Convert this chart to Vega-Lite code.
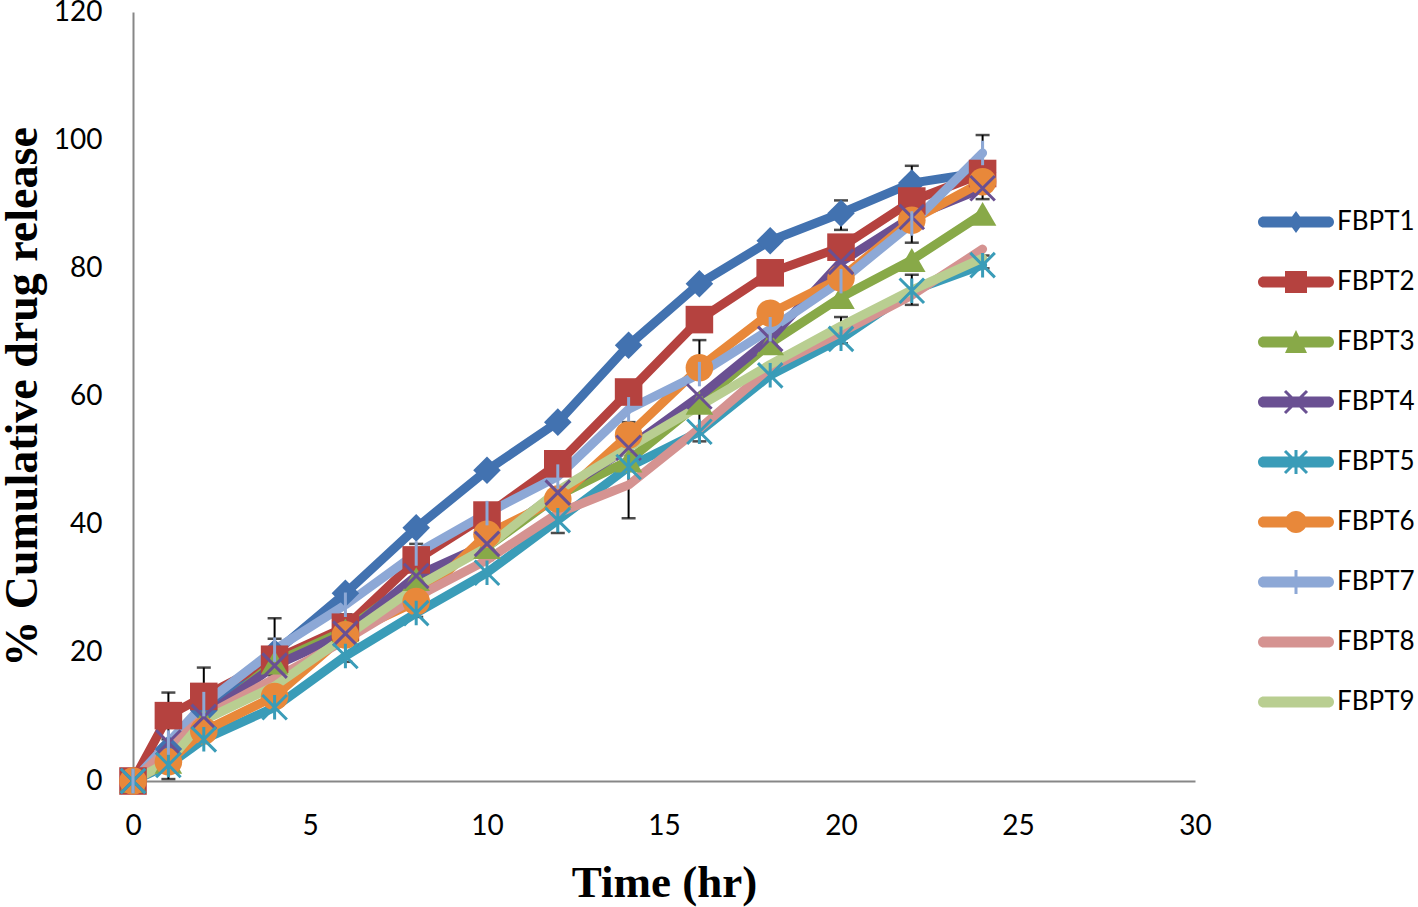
{
  "$schema": "https://vega.github.io/schema/vega-lite/v6.json",
  "width": 1062,
  "height": 769,
  "autosize": "none",
  "padding": {"left": 133, "top": 12, "right": 223, "bottom": 126},
  "background": "white",
  "config": {
    "view": {"stroke": null},
    "axis": {"grid": false, "ticks": false, "domainColor": "#878787", "domainWidth": 2, "labelFont": "Lato", "labelFontSize": 28, "labelColor": "#000000", "titleFont": "Liberation Serif", "titleFontWeight": "bold", "titleColor": "#000000"},
    "axisX": {"labelPadding": 31, "titleFontSize": 45, "titlePadding": 20, "labelFlush": false},
    "axisY": {"labelPadding": 31, "titleFontSize": 46, "titlePadding": 7}
  },
  "datasets": {
    "release": [
      {"t":0,"s":"FBPT1","v":0},{"t":1,"s":"FBPT1","v":5},{"t":2,"s":"FBPT1","v":11},{"t":4,"s":"FBPT1","v":20},{"t":6,"s":"FBPT1","v":29.3},{"t":8,"s":"FBPT1","v":39.5},{"t":10,"s":"FBPT1","v":48.5},{"t":12,"s":"FBPT1","v":56},{"t":14,"s":"FBPT1","v":68},{"t":16,"s":"FBPT1","v":77.6},{"t":18,"s":"FBPT1","v":84.3},{"t":20,"s":"FBPT1","v":88.6},{"t":22,"s":"FBPT1","v":93.3},{"t":24,"s":"FBPT1","v":95},
      {"t":0,"s":"FBPT2","v":0},{"t":1,"s":"FBPT2","v":10.2},{"t":2,"s":"FBPT2","v":13.2},{"t":4,"s":"FBPT2","v":19},{"t":6,"s":"FBPT2","v":24},{"t":8,"s":"FBPT2","v":34.5},{"t":10,"s":"FBPT2","v":41.5},{"t":12,"s":"FBPT2","v":49.5},{"t":14,"s":"FBPT2","v":60.7},{"t":16,"s":"FBPT2","v":72},{"t":18,"s":"FBPT2","v":79.3},{"t":20,"s":"FBPT2","v":83.3},{"t":22,"s":"FBPT2","v":90.5},{"t":24,"s":"FBPT2","v":94.8},
      {"t":0,"s":"FBPT3","v":0},{"t":1,"s":"FBPT3","v":3},{"t":2,"s":"FBPT3","v":9.5},{"t":4,"s":"FBPT3","v":18.5},{"t":6,"s":"FBPT3","v":23.5},{"t":8,"s":"FBPT3","v":31.5},{"t":10,"s":"FBPT3","v":36.5},{"t":12,"s":"FBPT3","v":44.5},{"t":14,"s":"FBPT3","v":50},{"t":16,"s":"FBPT3","v":59},{"t":18,"s":"FBPT3","v":68.3},{"t":20,"s":"FBPT3","v":75.5},{"t":22,"s":"FBPT3","v":81.3},{"t":24,"s":"FBPT3","v":88.5},
      {"t":0,"s":"FBPT4","v":0},{"t":1,"s":"FBPT4","v":6},{"t":2,"s":"FBPT4","v":10},{"t":4,"s":"FBPT4","v":18},{"t":6,"s":"FBPT4","v":23},{"t":8,"s":"FBPT4","v":32},{"t":10,"s":"FBPT4","v":37},{"t":12,"s":"FBPT4","v":45},{"t":14,"s":"FBPT4","v":52},{"t":16,"s":"FBPT4","v":60},{"t":18,"s":"FBPT4","v":69},{"t":20,"s":"FBPT4","v":81},{"t":22,"s":"FBPT4","v":88},{"t":24,"s":"FBPT4","v":92.5},
      {"t":0,"s":"FBPT5","v":0},{"t":1,"s":"FBPT5","v":2.5},{"t":2,"s":"FBPT5","v":6.5},{"t":4,"s":"FBPT5","v":11.5},{"t":6,"s":"FBPT5","v":19.5},{"t":8,"s":"FBPT5","v":26.2},{"t":10,"s":"FBPT5","v":32.5},{"t":12,"s":"FBPT5","v":40.7},{"t":14,"s":"FBPT5","v":49},{"t":16,"s":"FBPT5","v":54.5},{"t":18,"s":"FBPT5","v":63.3},{"t":20,"s":"FBPT5","v":69},{"t":22,"s":"FBPT5","v":76.5},{"t":24,"s":"FBPT5","v":80.5},
      {"t":0,"s":"FBPT6","v":0},{"t":1,"s":"FBPT6","v":3},{"t":2,"s":"FBPT6","v":7.8},{"t":4,"s":"FBPT6","v":13.2},{"t":6,"s":"FBPT6","v":22.8},{"t":8,"s":"FBPT6","v":28},{"t":10,"s":"FBPT6","v":38.5},{"t":12,"s":"FBPT6","v":44},{"t":14,"s":"FBPT6","v":54},{"t":16,"s":"FBPT6","v":64.5},{"t":18,"s":"FBPT6","v":73},{"t":20,"s":"FBPT6","v":78.5},{"t":22,"s":"FBPT6","v":87.5},{"t":24,"s":"FBPT6","v":93.5},
      {"t":0,"s":"FBPT7","v":0},{"t":1,"s":"FBPT7","v":6},{"t":2,"s":"FBPT7","v":12},{"t":4,"s":"FBPT7","v":20.5},{"t":6,"s":"FBPT7","v":27.5},{"t":8,"s":"FBPT7","v":35.5},{"t":10,"s":"FBPT7","v":41.8},{"t":12,"s":"FBPT7","v":47.5},{"t":14,"s":"FBPT7","v":58},{"t":16,"s":"FBPT7","v":63.5},{"t":18,"s":"FBPT7","v":70.5},{"t":20,"s":"FBPT7","v":78},{"t":22,"s":"FBPT7","v":87},{"t":24,"s":"FBPT7","v":98},
      {"t":0,"s":"FBPT8","v":0},{"t":1,"s":"FBPT8","v":5},{"t":2,"s":"FBPT8","v":10},{"t":4,"s":"FBPT8","v":16},{"t":6,"s":"FBPT8","v":22},{"t":8,"s":"FBPT8","v":28.7},{"t":10,"s":"FBPT8","v":34.5},{"t":12,"s":"FBPT8","v":41.8},{"t":14,"s":"FBPT8","v":46.2},{"t":16,"s":"FBPT8","v":55},{"t":18,"s":"FBPT8","v":64.5},{"t":20,"s":"FBPT8","v":70},{"t":22,"s":"FBPT8","v":75.8},{"t":24,"s":"FBPT8","v":83},
      {"t":0,"s":"FBPT9","v":0},{"t":1,"s":"FBPT9","v":3},{"t":2,"s":"FBPT9","v":9.5},{"t":4,"s":"FBPT9","v":14.8},{"t":6,"s":"FBPT9","v":22.5},{"t":8,"s":"FBPT9","v":30.3},{"t":10,"s":"FBPT9","v":36.5},{"t":12,"s":"FBPT9","v":45.3},{"t":14,"s":"FBPT9","v":52},{"t":16,"s":"FBPT9","v":58.5},{"t":18,"s":"FBPT9","v":65},{"t":20,"s":"FBPT9","v":71},{"t":22,"s":"FBPT9","v":76.6},{"t":24,"s":"FBPT9","v":81.6}
    ],
    "err": [
      {"t":1,"lo":6.5,"hi":13.8},{"t":1,"lo":0.3,"hi":3},
      {"t":2,"lo":8.8,"hi":17.7},
      {"t":4,"lo":14,"hi":25.4},{"t":4,"lo":16.5,"hi":22.2},
      {"t":6,"lo":18.6,"hi":26},
      {"t":8,"lo":25.6,"hi":31.4},{"t":8,"lo":31.4,"hi":37},
      {"t":10,"lo":34.5,"hi":40},
      {"t":12,"lo":38.7,"hi":44},
      {"t":14,"lo":41,"hi":51.4},{"t":14,"lo":51,"hi":56},
      {"t":16,"lo":53,"hi":59},{"t":16,"lo":64,"hi":68.8},
      {"t":20,"lo":86,"hi":90.6},{"t":20,"lo":68.3,"hi":72.4},
      {"t":22,"lo":90,"hi":96},{"t":22,"lo":74.3,"hi":79},{"t":22,"lo":84,"hi":88},
      {"t":24,"lo":90.8,"hi":100.8},{"t":24,"lo":80,"hi":82}
    ]
  },
  "layer": [
    {
      "data": {"name": "err"},
      "mark": {"type": "errorbar", "ticks": {"size": 14, "color": "#000000", "thickness": 2.5}, "rule": {"color": "#000000", "strokeWidth": 2}},
      "encoding": {
        "x": {"field": "t", "type": "quantitative", "title": "Time (hr)", "scale": {"domain": [0, 30], "nice": false}, "axis": {"values": [0, 5, 10, 15, 20, 25, 30]}},
        "y": {"field": "lo", "type": "quantitative", "title": "% Cumulative drug release", "scale": {"domain": [0, 120], "nice": false}, "axis": {"values": [0, 20, 40, 60, 80, 100, 120]}},
        "y2": {"field": "hi"}
      }
    },
    {
      "data": {"name": "release"},
      "mark": {"type": "line", "strokeWidth": 9, "strokeCap": "round", "strokeJoin": "round"},
      "encoding": {
        "x": {"field": "t", "type": "quantitative", "title": "Time (hr)", "scale": {"domain": [0, 30], "nice": false}, "axis": {"values": [0, 5, 10, 15, 20, 25, 30]}},
        "y": {"field": "v", "type": "quantitative", "title": "% Cumulative drug release", "scale": {"domain": [0, 120], "nice": false}, "axis": {"values": [0, 20, 40, 60, 80, 100, 120]}},
        "color": {
          "field": "s", "type": "nominal",
          "scale": {"domain": ["FBPT1","FBPT2","FBPT3","FBPT4","FBPT5","FBPT6","FBPT7","FBPT8","FBPT9"], "range": ["#4272B0","#B5423F","#88A948","#6A5092","#3A9CB8","#E8883A","#8DA8D6","#D59391","#B9CE91"]},
          "legend": {
            "title": null, "orient": "none", "legendX": 1143, "legendY": 190, "padding": 0,
            "symbolSize": 1600, "symbolStrokeWidth": 0, "rowPadding": 27, "labelOffset": 21,
            "labelFont": "Lato", "labelFontSize": 26, "labelColor": "#000000", "labelLimit": 200,
            "encode": {
              "symbols": {
                "update": {
                  "shape": {"signal": "['M-1.625,-0.275L1.625,-0.275A0.275,0.275 0 0 1 1.625,0.275L-1.625,0.275A0.275,0.275 0 0 1 -1.625,-0.275ZM0,-0.55L0.4,0L0,0.55L-0.4,0Z','M-1.625,-0.275L1.625,-0.275A0.275,0.275 0 0 1 1.625,0.275L-1.625,0.275A0.275,0.275 0 0 1 -1.625,-0.275ZM-0.55,-0.55L0.55,-0.55L0.55,0.55L-0.55,0.55Z','M-1.625,-0.275L1.625,-0.275A0.275,0.275 0 0 1 1.625,0.275L-1.625,0.275A0.275,0.275 0 0 1 -1.625,-0.275ZM0,-0.6L0.55,0.55L-0.55,0.55Z','M-1.625,-0.275L1.625,-0.275A0.275,0.275 0 0 1 1.625,0.275L-1.625,0.275A0.275,0.275 0 0 1 -1.625,-0.275ZM-0.497,-0.603L0.603,0.497L0.497,0.603L-0.603,-0.497ZM-0.497,0.603L-0.603,0.497L0.497,-0.603L0.603,-0.497Z','M-1.625,-0.275L1.625,-0.275A0.275,0.275 0 0 1 1.625,0.275L-1.625,0.275A0.275,0.275 0 0 1 -1.625,-0.275ZM-0.497,-0.603L0.603,0.497L0.497,0.603L-0.603,-0.497ZM-0.497,0.603L-0.603,0.497L0.497,-0.603L0.603,-0.497ZM-0.075,-0.6L0.075,-0.6L0.075,0.6L-0.075,0.6Z','M-1.625,-0.275L1.625,-0.275A0.275,0.275 0 0 1 1.625,0.275L-1.625,0.275A0.275,0.275 0 0 1 -1.625,-0.275ZM-0.55,0A0.55,0.55 0 1 1 0.55,0A0.55,0.55 0 1 1 -0.55,0Z','M-1.625,-0.275L1.625,-0.275A0.275,0.275 0 0 1 1.625,0.275L-1.625,0.275A0.275,0.275 0 0 1 -1.625,-0.275ZM-0.075,-0.6L0.075,-0.6L0.075,0.6L-0.075,0.6Z','M-1.625,-0.275L1.625,-0.275A0.275,0.275 0 0 1 1.625,0.275L-1.625,0.275A0.275,0.275 0 0 1 -1.625,-0.275Z','M-1.625,-0.275L1.625,-0.275A0.275,0.275 0 0 1 1.625,0.275L-1.625,0.275A0.275,0.275 0 0 1 -1.625,-0.275Z'][indexof(['FBPT1','FBPT2','FBPT3','FBPT4','FBPT5','FBPT6','FBPT7','FBPT8','FBPT9'], datum.value)]"},
                  "fill": {"scale": "color", "field": "value"},
                  "fillOpacity": {"value": 1},
                  "strokeWidth": {"value": 0}
                }
              }
            }
          }
        }
      }
    },
    {
      "data": {"name": "release"},
      "transform": [{"filter": {"field": "s", "oneOf": ["FBPT1", "FBPT2", "FBPT3", "FBPT6"]}}],
      "mark": {"type": "point", "filled": true, "size": 760, "opacity": 1},
      "encoding": {
        "x": {"field": "t", "type": "quantitative", "title": "Time (hr)", "scale": {"domain": [0, 30], "nice": false}, "axis": {"values": [0, 5, 10, 15, 20, 25, 30]}},
        "y": {"field": "v", "type": "quantitative", "title": "% Cumulative drug release", "scale": {"domain": [0, 120], "nice": false}, "axis": {"values": [0, 20, 40, 60, 80, 100, 120]}},
        "color": {"field": "s", "type": "nominal", "legend": null},
        "shape": {
          "field": "s", "type": "nominal", "legend": null,
          "scale": {"domain": ["FBPT1","FBPT2","FBPT3","FBPT4","FBPT5","FBPT6","FBPT7"], "range": ["diamond", "square", "triangle-up", "M-1,-1L1,1M-1,1L1,-1", "M-1,-1L1,1M-1,1L1,-1M0,-1L0,1", "circle", "M0,-1L0,1"]}
        }
      }
    },
    {
      "data": {"name": "release"},
      "transform": [{"filter": {"field": "s", "oneOf": ["FBPT4", "FBPT5", "FBPT7"]}}],
      "mark": {"type": "point", "filled": false, "size": 600, "strokeWidth": 3, "opacity": 1},
      "encoding": {
        "x": {"field": "t", "type": "quantitative", "title": "Time (hr)", "scale": {"domain": [0, 30], "nice": false}, "axis": {"values": [0, 5, 10, 15, 20, 25, 30]}},
        "y": {"field": "v", "type": "quantitative", "title": "% Cumulative drug release", "scale": {"domain": [0, 120], "nice": false}, "axis": {"values": [0, 20, 40, 60, 80, 100, 120]}},
        "color": {"field": "s", "type": "nominal", "legend": null},
        "shape": {"field": "s", "type": "nominal", "legend": null}
      }
    }
  ]
}
